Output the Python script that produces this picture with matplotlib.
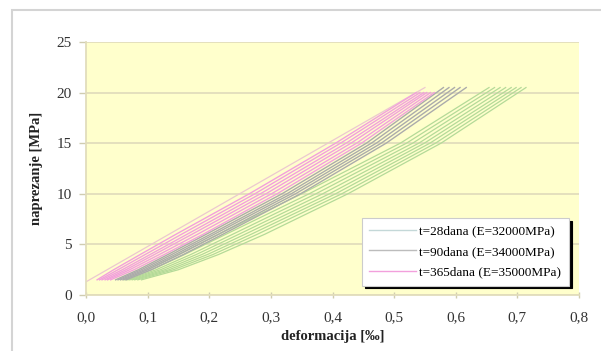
import matplotlib
matplotlib.use("Agg")
import matplotlib.pyplot as plt
from matplotlib.patches import Rectangle
from matplotlib.lines import Line2D

plt.rcParams['font.family'] = ['Liberation Serif', 'DejaVu Serif']

stress = [1.5, 2.5, 4, 6, 10, 15, 20.5]
stress_365 = [1.5, 2.5, 4, 6, 10, 15, 20]

# t=28 dana, strain [permille]
green = [
    [0.062, 0.100, 0.150, 0.215, 0.350, 0.510, 0.654],
    [0.065, 0.107, 0.160, 0.227, 0.362, 0.520, 0.663],
    [0.068, 0.114, 0.170, 0.238, 0.373, 0.530, 0.672],
    [0.071, 0.121, 0.179, 0.248, 0.384, 0.540, 0.681],
    [0.075, 0.128, 0.188, 0.258, 0.395, 0.549, 0.690],
    [0.079, 0.135, 0.197, 0.268, 0.405, 0.558, 0.698],
    [0.084, 0.142, 0.206, 0.278, 0.415, 0.567, 0.706],
    [0.090, 0.150, 0.215, 0.290, 0.425, 0.576, 0.714],
]
# t=90 dana
gray = [
    [0.048, 0.085, 0.133, 0.195, 0.318, 0.455, 0.580],
    [0.052, 0.090, 0.139, 0.202, 0.326, 0.463, 0.589],
    [0.056, 0.095, 0.145, 0.208, 0.333, 0.471, 0.598],
    [0.060, 0.100, 0.151, 0.215, 0.340, 0.479, 0.607],
    [0.065, 0.106, 0.158, 0.222, 0.348, 0.487, 0.617],
]
# t=365 dana
pink = [
    [0.018, 0.045, 0.088, 0.146, 0.265, 0.405, 0.536],
    [0.022, 0.052, 0.096, 0.155, 0.274, 0.413, 0.542],
    [0.026, 0.059, 0.104, 0.164, 0.283, 0.422, 0.548],
    [0.031, 0.065, 0.111, 0.172, 0.292, 0.430, 0.553],
    [0.035, 0.071, 0.119, 0.181, 0.301, 0.439, 0.559],
    [0.040, 0.078, 0.127, 0.190, 0.310, 0.447, 0.565],
]
# first loading line
first_x = [0.0, 0.55]
first_y = [1.3, 20.5]

labels = ['t=28dana (E=32000MPa)', 't=90dana (E=34000MPa)', 't=365dana (E=35000MPa)']
c_green = '#b4da98'
c_gray = '#ababab'
c_pink = '#f2a0dc'

fig = plt.figure(figsize=(6.01, 3.51), dpi=100)
fig.patches.append(Rectangle((12 / 601, -0.01), 1, (351 - 10) / 351 + 0.01, transform=fig.transFigure,
                             fill=False, edgecolor='#d4d4d4', linewidth=1.5))
ax = fig.add_axes([86 / 601, 56 / 351, 493 / 601, 253 / 351])
ax.set_facecolor('#ffffcc')

ax.plot(first_x, first_y, color='#ecc8d0', linewidth=0.9)
for xs in green:
    ax.plot(xs, stress, color=c_green, linewidth=0.9)
for xs in gray:
    ax.plot(xs, stress, color=c_gray, linewidth=1.0)
for xs in pink:
    ax.plot(xs, stress_365, color=c_pink, linewidth=1.0)

ax.set_xlim(0, 0.8)
ax.set_ylim(0, 25)
ax.set_xticks([i / 10 for i in range(9)])
ax.set_xticklabels([('%.1f' % (i / 10)).replace('.', ',') for i in range(9)])
ax.set_yticks([0, 5, 10, 15, 20, 25])
ax.grid(axis='y', color='#e2ddbc', linewidth=1.3)
ax.set_axisbelow(True)
for s in ['top', 'right']:
    ax.spines[s].set_visible(False)
for s in ['left', 'bottom']:
    ax.spines[s].set_color('#e2ddbc')
    ax.spines[s].set_linewidth(1.3)
ax.tick_params(colors='#d0ccb0', labelcolor='#333333', labelsize=11, width=1)
ax.tick_params(axis='y', length=5, pad=5)
ax.tick_params(axis='x', direction='inout', length=5, pad=9)

ax.set_xlabel('deformacija [‰]', fontsize=10.5, fontweight='bold', color='#222222', labelpad=4)
ax.set_ylabel('naprezanje [MPa]', fontsize=10.5, fontweight='bold', color='#222222', labelpad=10)

# legend with black shadow
handles = [Line2D([], [], color='#c4d8d8', linewidth=1),
           Line2D([], [], color='#bcbcbc', linewidth=1),
           Line2D([], [], color=c_pink, linewidth=1)]
leg = ax.legend(handles, labels, loc='upper left', bbox_to_anchor=(0.560, 0.304),
                fontsize=9.5, frameon=True, fancybox=False,
                shadow={'color': 'black', 'alpha': 1},
                handlelength=3.5, handletextpad=0.3, borderpad=0.55, labelspacing=0.62,
                borderaxespad=0)
leg.get_frame().set_edgecolor('#cccccc')
leg.get_frame().set_linewidth(0.8)

fig.savefig('out.png', dpi=100)
